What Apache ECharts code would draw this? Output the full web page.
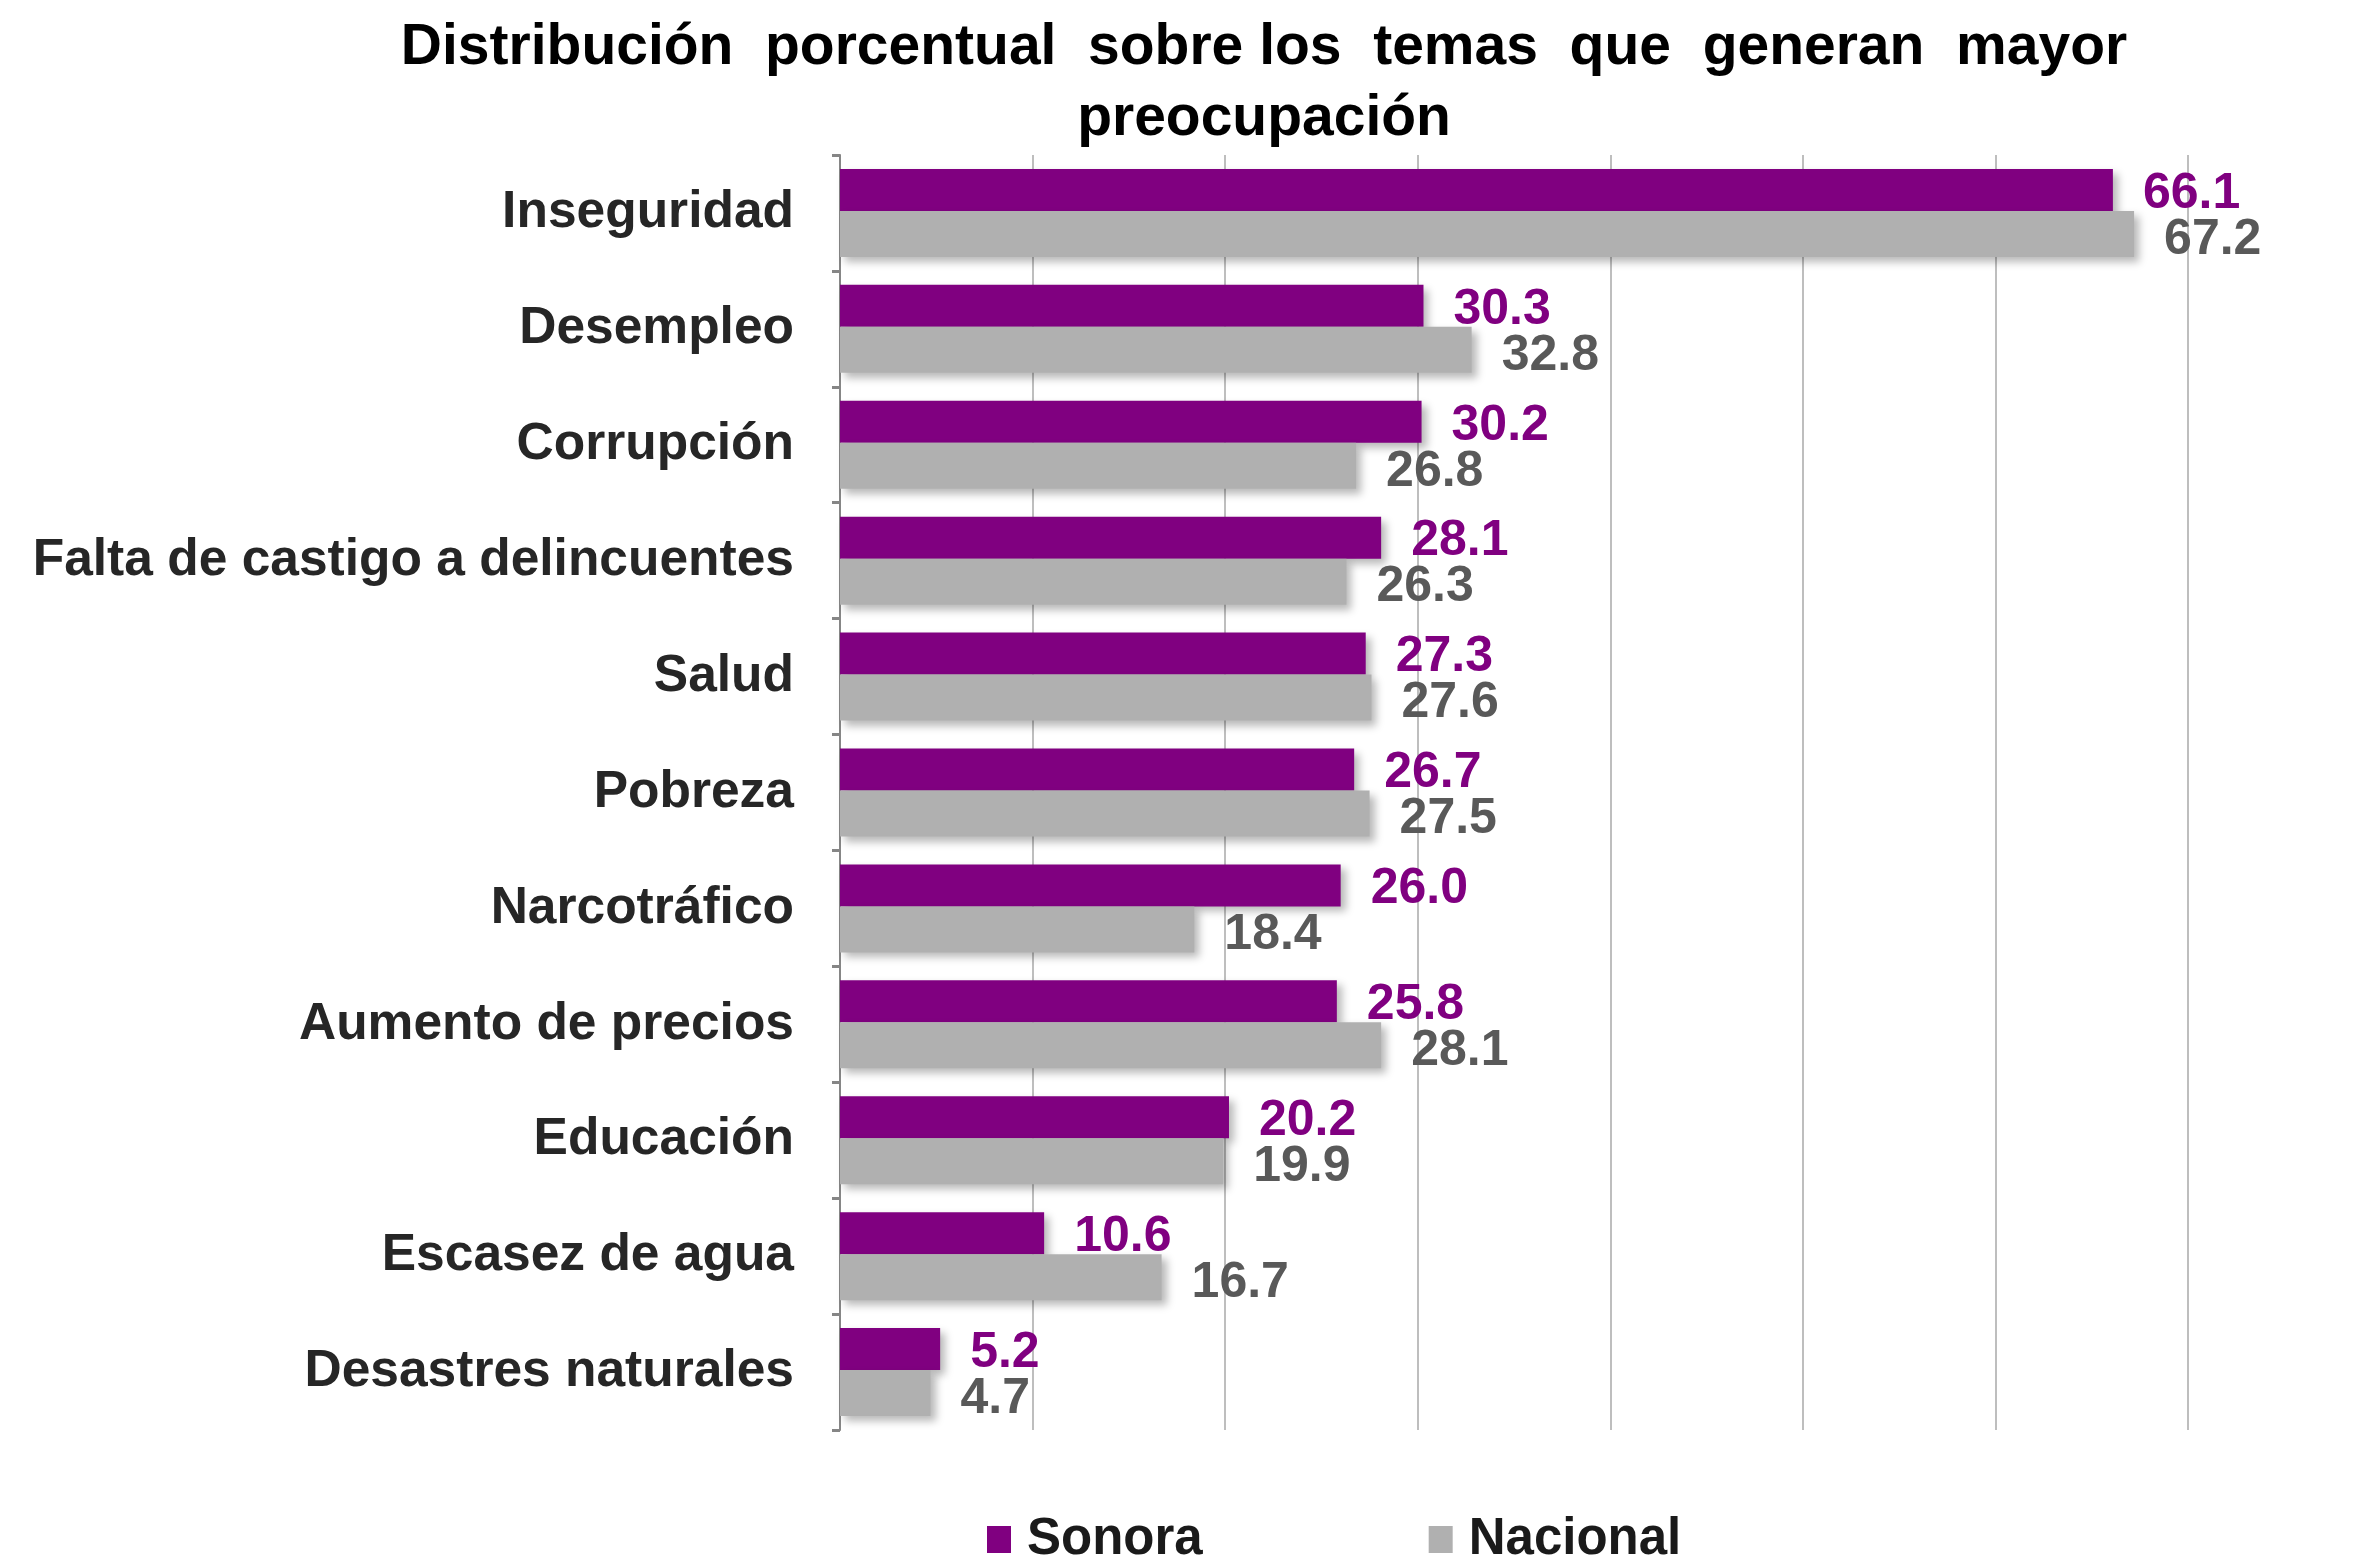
<!DOCTYPE html>
<html>
<head>
<meta charset="utf-8">
<script src="https://cdn.jsdelivr.net/npm/echarts@6/dist/echarts.min.js"></script>
<style>html,body{margin:0;padding:0;background:#fff;}#c{width:2355px;height:1556px;}</style>
</head>
<body>
<div id="c"></div>
<script>
const categories = ["Inseguridad","Desempleo","Corrupción","Falta de castigo a delincuentes","Salud","Pobreza","Narcotráfico","Aumento de precios","Educación","Escasez de agua","Desastres naturales"];
const sonora = [66.1,30.3,30.2,28.1,27.3,26.7,26.0,25.8,20.2,10.6,5.2];
const nacional = [67.2,32.8,26.8,26.3,27.6,27.5,18.4,28.1,19.9,16.7,4.7];
const seriesNames = ["Sonora","Nacional"];
const titleText = "Distribución  porcentual  sobre los  temas  que  generan  mayor\npreocupación";

const FONT = '"Liberation Sans", Arial, sans-serif';
const chart = echarts.init(document.getElementById('c'));
const shadow = {shadowBlur: 8, shadowOffsetX: 5, shadowOffsetY: 5, shadowColor: 'rgba(0,0,0,0.28)'};
chart.setOption({
  backgroundColor: '#fff',
  animation: false,
  title: {
    text: titleText,
    left: 1259, top: 8, textAlign: 'center',
    textStyle: {fontFamily: FONT, fontWeight: 'bold', fontSize: 57, lineHeight: 71, color: '#000'}
  },
  legend: {
    data: seriesNames,
    left: 982, top: 1509,
    itemWidth: 24, itemHeight: 27, itemGap: 226,
    icon: 'rect',
    textStyle: {fontFamily: FONT, fontWeight: 'bold', fontSize: 51, color: '#1a1a1a', padding: [0,0,0,11]}
  },
  grid: {left: 840, right: 167, top: 155, bottom: 126, containLabel: false},
  xAxis: {
    type: 'value', min: 0, max: 70, interval: 10,
    axisLabel: {show: false}, axisTick: {show: false}, axisLine: {show: false},
    splitLine: {show: true, lineStyle: {color: '#BEBEBE', width: 2}}
  },
  yAxis: {
    type: 'category', data: categories, inverse: true,
    axisLine: {show: true, lineStyle: {color: '#868686', width: 2}},
    axisTick: {show: true, length: 8, lineStyle: {color: '#868686', width: 3}},
    axisLabel: {margin: 46, fontFamily: FONT, fontWeight: 'bold', fontSize: 51.5, color: '#262626', padding: [8,0,0,0]}
  },
  series: [
    {
      name: seriesNames[0], type: 'bar', data: sonora, barWidth: 42, barGap: '0%',
      itemStyle: Object.assign({color: '#800080'}, shadow),
      label: {show: true, position: 'right', distance: 30, offset: [0, 4], fontFamily: FONT, fontWeight: 'bold', fontSize: 50, color: '#800080',
        formatter: p => p.value.toFixed(1)}
    },
    {
      name: seriesNames[1], type: 'bar', data: nacional, barWidth: 46, barGap: '0%',
      itemStyle: Object.assign({color: '#B0B0B0'}, shadow),
      label: {show: true, position: 'right', distance: 30, offset: [0, 6], fontFamily: FONT, fontWeight: 'bold', fontSize: 50, color: '#595959',
        formatter: p => p.value.toFixed(1)}
    }
  ]
});
</script>
</body>
</html>
